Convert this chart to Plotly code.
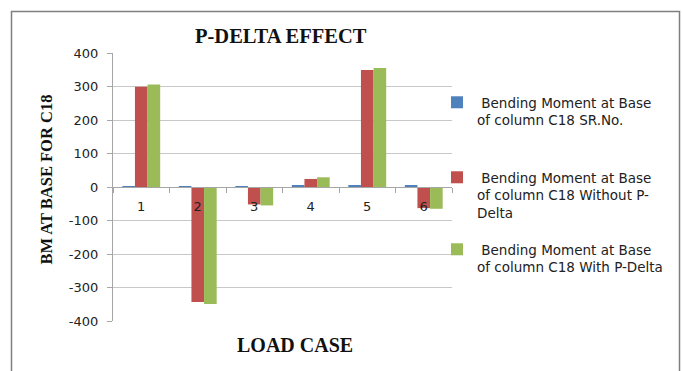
import plotly.graph_objects as go

# Load cases and bending moments at the base of column C18
load_cases = ["1", "2", "3", "4", "5", "6"]
sr_no = [1, 2, 3, 4, 5, 6]
bm_without_pdelta = [299, -343, -52, 24, 349, -63]
bm_with_pdelta = [306, -349, -55, 29, 355, -65]

series_names = [
    " Bending Moment at Base<br>of column C18 SR.No.",
    " Bending Moment at Base<br>of column C18 Without P-<br>Delta",
    " Bending Moment at Base<br>of column C18 With P-Delta",
]
colors = ["#4F81BD", "#C0504D", "#9BBB59"]
y_ticks = [-400, -300, -200, -100, 0, 100, 200, 300, 400]

W, H = 682, 371
L, R, T, B = 113, 452, 53, 321  # plot area in pixels


def px_x(x):
    return (x - L) / (R - L)


def px_y(y):
    return (B - y) / (B - T)


fig = go.Figure()
legend_ids = ["legend", "legend2", "legend3"]
for name, vals, col, lg in zip(series_names, [sr_no, bm_without_pdelta, bm_with_pdelta], colors, legend_ids):
    fig.add_trace(go.Bar(x=load_cases, y=vals, name=name, marker=dict(color=col, line=dict(width=0)),
                         legend=lg))

legend_common = dict(xanchor="left", yanchor="top", valign="top", bgcolor="rgba(0,0,0,0)",
                     font=dict(family="DejaVu Sans", size=13.5, color="#222222"),
                     itemwidth=30)

fig.update_layout(
    width=W, height=H,
    margin=dict(l=L, r=W - R, t=T, b=H - B, pad=0),
    paper_bgcolor="white", plot_bgcolor="white",
    barmode="group", bargap=0.33, bargroupgap=0,
    showlegend=True,
    legend=dict(x=px_x(437), y=px_y(87), **legend_common),
    legend2=dict(x=px_x(437), y=px_y(162), **legend_common),
    legend3=dict(x=px_x(437), y=px_y(234), **legend_common),
    xaxis=dict(
        type="category", anchor="free", position=0.5,
        showline=True, linecolor="#a6a6a6", linewidth=1.2,
        ticks="outside", tickson="boundaries", ticklen=5, tickcolor="#a6a6a6",
        showgrid=False, zeroline=False,
        tickfont=dict(family="DejaVu Sans", size=13, color="#222222"),
        ticklabelstandoff=7,
    ),
    yaxis=dict(
        range=[-400, 400], tickvals=y_ticks, ticktext=[str(v) for v in y_ticks],
        showline=True, linecolor="#a6a6a6", linewidth=1.2,
        ticks="outside", ticklen=5, tickcolor="#a6a6a6",
        showgrid=True, gridcolor="#c8c8c8", gridwidth=1.3,
        zeroline=False,
        tickfont=dict(family="DejaVu Sans", size=13, color="#222222"),
        ticklabelstandoff=6,
    ),
    shapes=[
        dict(type="rect", xref="paper", yref="paper",
             x0=px_x(11.5), x1=px_x(679.5), y0=px_y(11.5), y1=px_y(400),
             line=dict(color="#7f7f7f", width=1.5), fillcolor="rgba(0,0,0,0)", layer="below"),
    ],
    annotations=[
        dict(text="<b>P-DELTA EFFECT</b>", xref="paper", yref="paper",
             x=px_x(281), y=px_y(36), showarrow=False, xanchor="center", yanchor="middle",
             font=dict(family="Liberation Serif", size=20.5, color="#111111")),
        dict(text="<b>LOAD CASE</b>", xref="paper", yref="paper",
             x=px_x(294.5), y=px_y(345), showarrow=False, xanchor="center", yanchor="middle",
             font=dict(family="Liberation Serif", size=20, color="#111111")),
        dict(text="<b>BM AT BASE FOR C18</b>", xref="paper", yref="paper",
             x=px_x(45.5), y=px_y(180), showarrow=False, xanchor="center", yanchor="middle",
             textangle=-90,
             font=dict(family="Liberation Serif", size=16.5, color="#111111")),
    ],
)

fig.write_html("out.html")
